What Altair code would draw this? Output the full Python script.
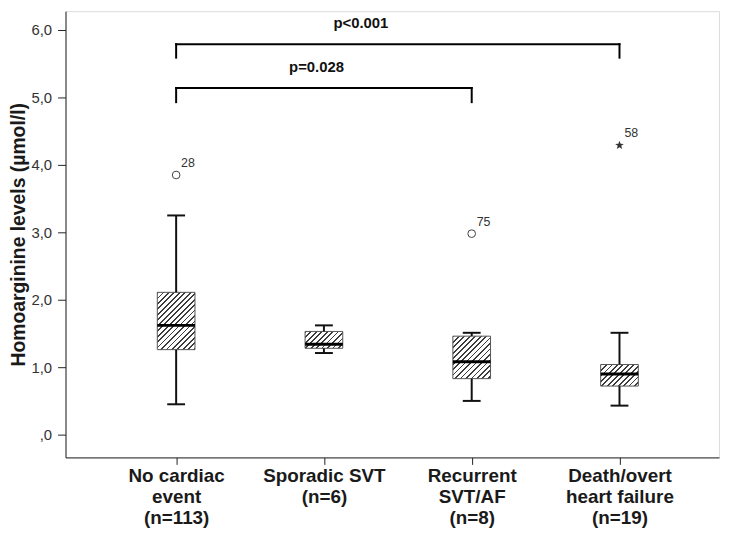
import json
import altair as alt
import pandas as pd

# ---------------- data ----------------
category_lines = [
    ["No cardiac", "event", "(n=113)"],
    ["Sporadic SVT", "(n=6)"],
    ["Recurrent", "SVT/AF", "(n=8)"],
    ["Death/overt", "heart failure", "(n=19)"],
]
whisker_low = [0.45, 1.21, 0.50, 0.43]
quartile_1 = [1.26, 1.28, 0.83, 0.72]
medians = [1.62, 1.34, 1.08, 0.90]
quartile_3 = [2.11, 1.53, 1.46, 1.04]
whisker_high = [3.25, 1.62, 1.51, 1.51]

outlier_group = [0, 2, 3]
outlier_value = [3.85, 2.98, 4.29]
outlier_case = ["28", "75", "58"]
outlier_kind = ["circle", "circle", "star"]

bracket_from = [0, 0]
bracket_to = [3, 2]
bracket_level = [5.79, 5.14]
bracket_end = [5.59, 4.93]
p_labels = ["p<0.001", "p=0.028"]
p_label_x = [1.25, 0.95]
p_label_y = [6.1, 5.45]

y_ticks = [0, 1, 2, 3, 4, 5, 6]

# ---------------- layout / style ----------------
W, H = 659, 450
X_DOMAIN = [-0.715, 3.64]
Y_DOMAIN = [-0.338, 6.279]
PX_PER_UNIT = H / (Y_DOMAIN[1] - Y_DOMAIN[0])
BOX_W = 38
FONT = "Liberation Sans"

boxes = pd.DataFrame({
    "idx": list(range(len(category_lines))),
    "lo": whisker_low, "q1": quartile_1, "med": medians,
    "q3": quartile_3, "hi": whisker_high,
})
outliers = pd.DataFrame({"idx": outlier_group, "value": outlier_value,
                         "case": outlier_case, "kind": outlier_kind})

seg_rows = []
for a, b, lv, en in zip(bracket_from, bracket_to, bracket_level, bracket_end):
    seg_rows.append({"x": a, "x2": b, "y": lv, "y2": lv})
    seg_rows.append({"x": a, "x2": a, "y": lv, "y2": en})
    seg_rows.append({"x": b, "x2": b, "y": lv, "y2": en})
segments = pd.DataFrame(seg_rows)
plabels = pd.DataFrame({"x": p_label_x, "y": p_label_y, "text": p_labels})

x_scale = alt.Scale(domain=X_DOMAIN, nice=False, zero=False)
y_scale = alt.Scale(domain=Y_DOMAIN, nice=False, zero=False)

x_axis = alt.Axis(
    values=[0, 1, 2, 3],
    labelExpr=json.dumps(category_lines) + "[datum.value]",
    title=None, grid=False, tickSize=7, tickColor="#222", tickWidth=1,
    labelFont=FONT, labelFontSize=19, labelFontWeight="bold", labelColor="#1a1a1a",
    labelPadding=2, labelLineHeight=21.5, labelBaseline="top",
    domainColor="#222", labelFlush=False,
)
y_axis = alt.Axis(
    values=y_ticks,
    labelExpr="datum.value == 0 ? ',0' : replace(format(datum.value, '.1f'), '.', ',')",
    title="Homoarginine levels (µmol/l)", grid=False,
    tickSize=8, tickColor="#222", tickWidth=1,
    labelFont=FONT, labelFontSize=15, labelColor="#333", labelPadding=6,
    titleFont=FONT, titleFontSize=19.5, titleFontWeight="bold", titleColor="#1a1a1a",
    titlePadding=3, domainColor="#222", labelFlush=False,
)


def X(field="idx"):
    return alt.X(f"{field}:Q", scale=x_scale, axis=x_axis)


def Y(field):
    return alt.Y(f"{field}:Q", scale=y_scale, axis=y_axis)


def hatch(w, h, period=5.5, frac=0.32, ink="#3c3c3c", paper="#ffffff"):
    r = h / w
    s = (1 + r) / (1 + r * r)
    n = (w + h) / period
    stops = [{"offset": 0, "color": paper}]
    k = 0
    while k / n < 1:
        a = k / n
        b = min((k + frac) / n, 1.0)
        stops.append({"offset": a, "color": paper})
        stops.append({"offset": a, "color": ink})
        stops.append({"offset": b, "color": ink})
        stops.append({"offset": b, "color": paper})
        k += 1
    stops.append({"offset": 1, "color": paper})
    return {"gradient": "linear", "x1": 0, "y1": 0, "x2": s, "y2": s * r,
            "stops": stops}


layers = []
# hatched boxes
for i in range(len(category_lines)):
    hpx = (quartile_3[i] - quartile_1[i]) * PX_PER_UNIT
    layers.append(
        alt.Chart(boxes).transform_filter(f"datum.idx == {i}")
        .mark_bar(width=BOX_W, fill=hatch(BOX_W, hpx), stroke="#555",
                  strokeWidth=1)
        .encode(x=X(), y=Y("q1"), y2="q3:Q")
    )
# whiskers
layers.append(alt.Chart(boxes).mark_rule(color="#111", strokeWidth=2)
              .encode(x=X(), y=Y("q3"), y2="hi:Q"))
layers.append(alt.Chart(boxes).mark_rule(color="#111", strokeWidth=2)
              .encode(x=X(), y=Y("lo"), y2="q1:Q"))
# caps
for f in ["lo", "hi"]:
    layers.append(alt.Chart(boxes)
                  .mark_tick(orient="horizontal", size=18, thickness=2,
                             color="#111", opacity=1)
                  .encode(x=X(), y=Y(f)))
# medians
layers.append(alt.Chart(boxes)
              .mark_tick(orient="horizontal", size=BOX_W, thickness=3,
                         color="#000", opacity=1)
              .encode(x=X(), y=Y("med")))
# outliers
layers.append(alt.Chart(outliers).transform_filter("datum.kind == 'circle'")
              .mark_point(shape="circle", filled=False, size=60,
                          stroke="#444", strokeWidth=1, opacity=1)
              .encode(x=X(), y=Y("value")))
star = ("M0,-1L0.24,-0.33L0.95,-0.31L0.38,0.12L0.59,0.81L0,0.4L-0.59,0.81"
        "L-0.38,0.12L-0.95,-0.31L-0.24,-0.33Z")
layers.append(alt.Chart(outliers).transform_filter("datum.kind == 'star'")
              .mark_point(shape=star, filled=True, size=85, fill="#333",
                          strokeWidth=0, opacity=1)
              .encode(x=X(), y=Y("value")))
layers.append(alt.Chart(outliers)
              .mark_text(align="left", baseline="middle", dx=5, dy=-12,
                         font=FONT, fontSize=12.5, color="#333")
              .encode(x=X(), y=Y("value"), text="case:N"))
# brackets
layers.append(alt.Chart(segments)
              .mark_rule(color="#000", strokeWidth=2, strokeCap="square")
              .encode(x=X("x"), x2="x2:Q", y=Y("y"), y2="y2:Q"))
layers.append(alt.Chart(plabels)
              .mark_text(align="center", baseline="middle", font=FONT,
                         fontSize=15, fontWeight="bold", color="#111")
              .encode(x=X("x"), y=Y("y"), text="text:N"))

chart = (
    alt.layer(*layers)
    .properties(width=W, height=H,
                padding={"left": 58, "top": 1, "right": 3, "bottom": 73},
                autosize=alt.AutoSizeParams(type="none"))
    .configure_view(stroke="#7a7a7a", strokeWidth=1)
    .configure(background="white")
)

chart.save("out.html", embed_options={"renderer": "svg", "actions": False})
